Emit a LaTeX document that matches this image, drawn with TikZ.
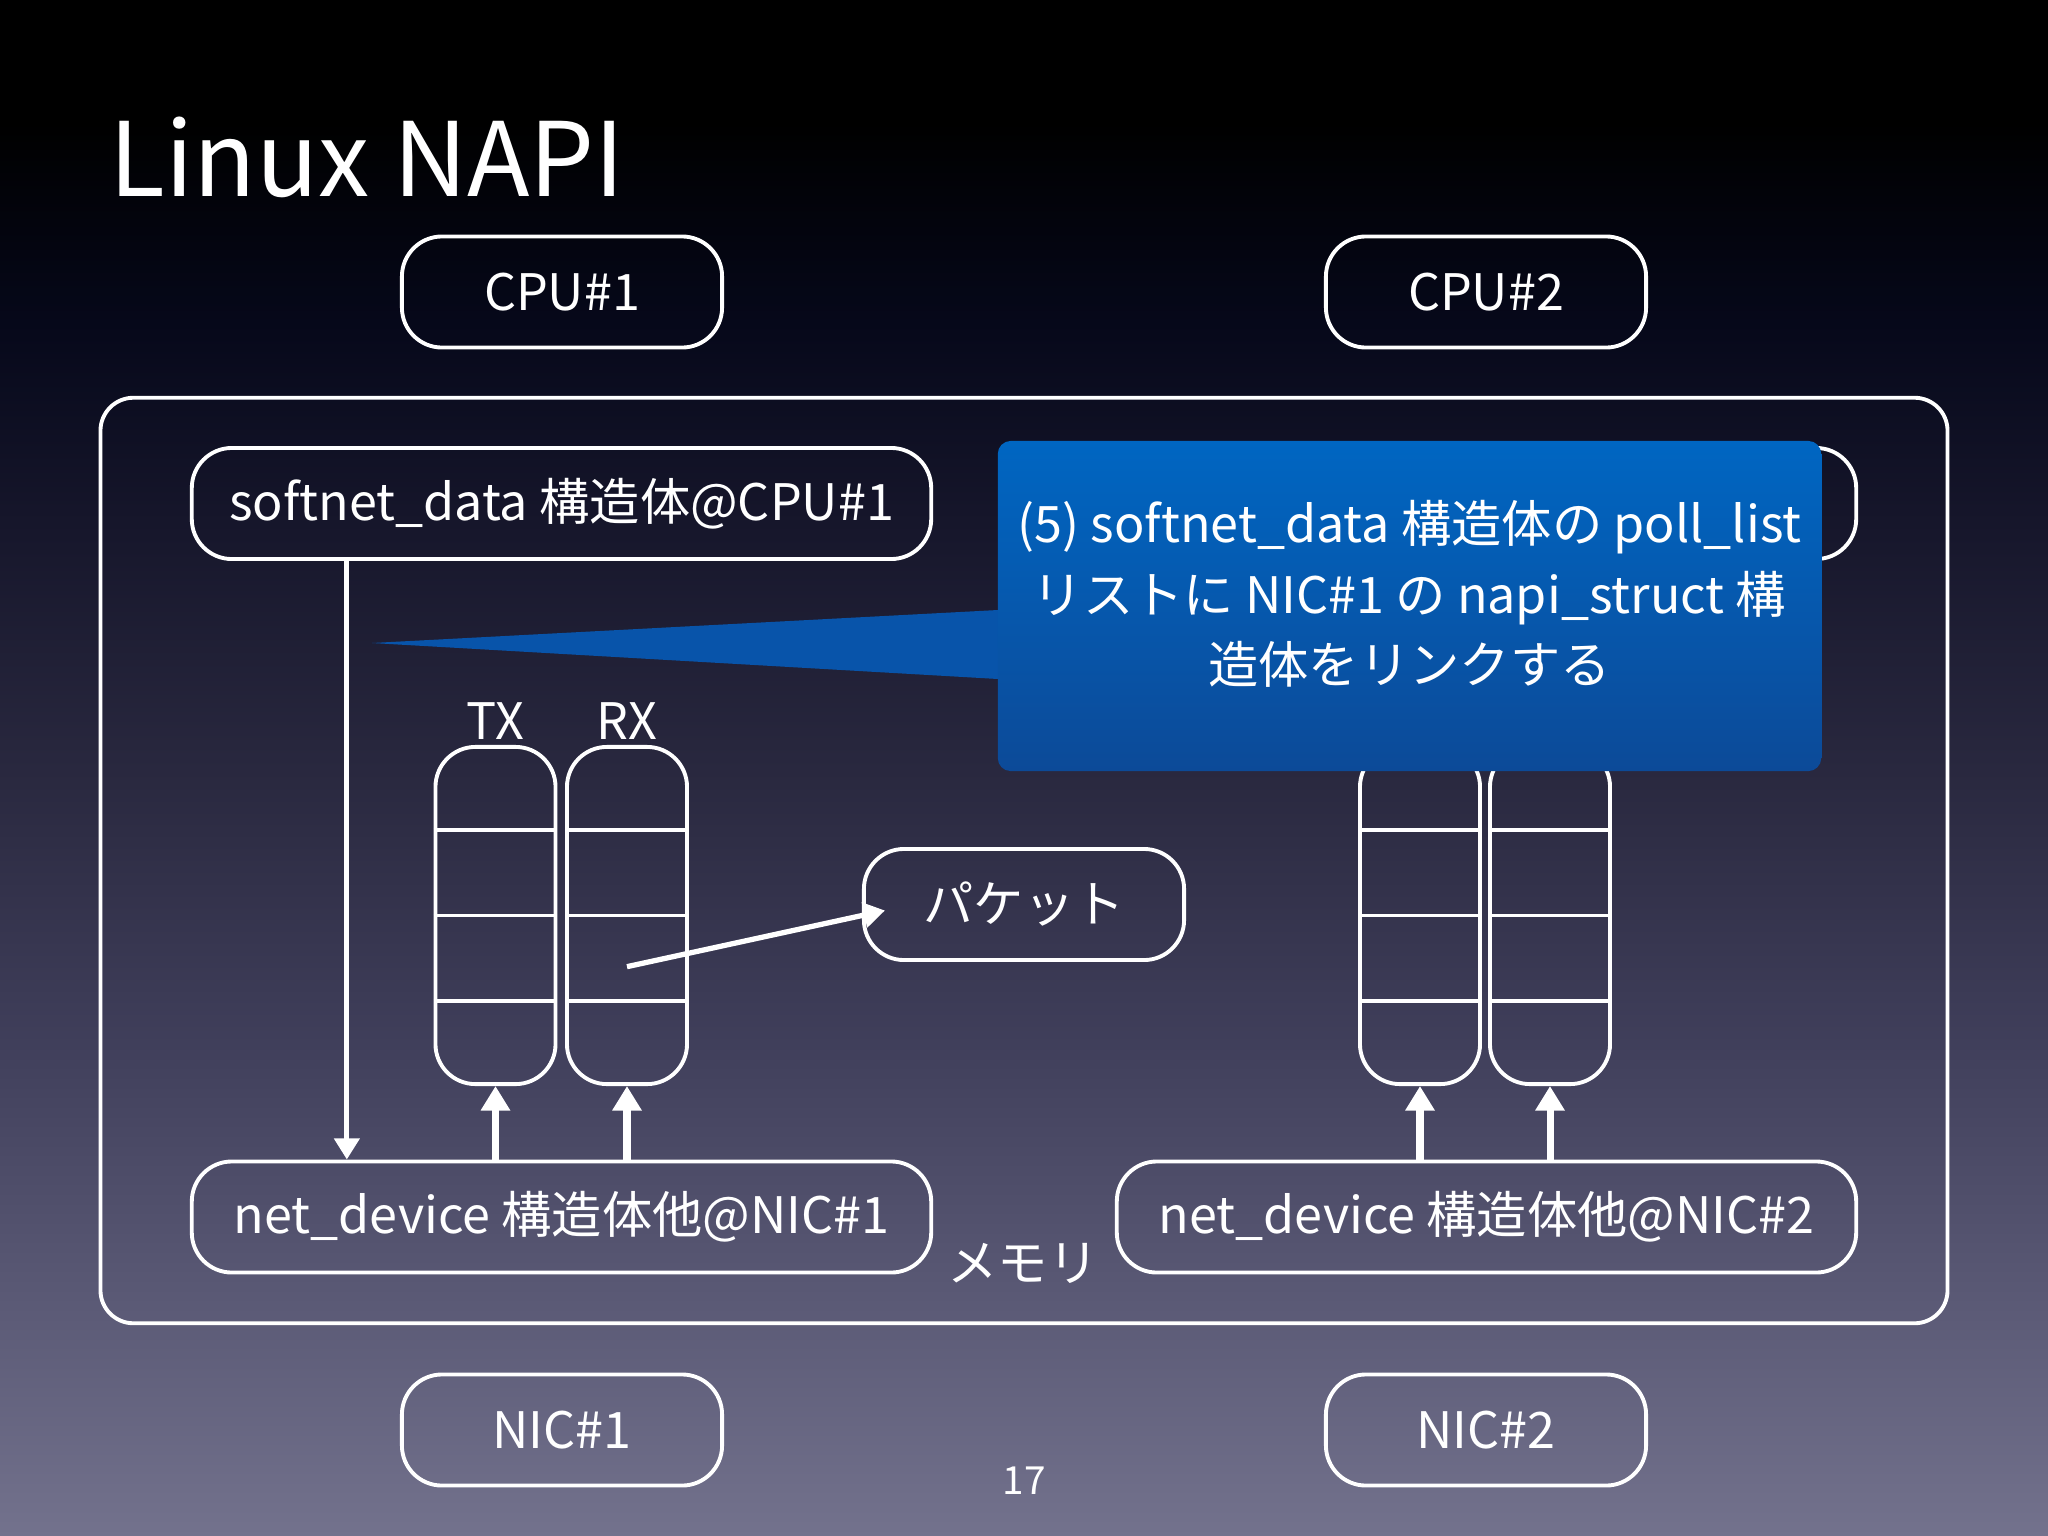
\documentclass[tikz,border=0pt]{standalone}
\usepackage{fontspec}
\setmainfont{Noto Sans CJK JP}
\usepackage{tikz}
\usetikzlibrary{arrows.meta,calc,positioning}
\definecolor{bgA}{RGB}{115,114,141}
\definecolor{bgB}{RGB}{91,90,118}
\definecolor{bgC}{RGB}{64,63,91}
\definecolor{bgD}{RGB}{42,41,64}
\definecolor{bgE}{RGB}{22,22,43}
\definecolor{bgF}{RGB}{6,8,26}
\definecolor{notetop}{RGB}{0,102,194}
\definecolor{notebot}{RGB}{12,74,152}
\definecolor{notetip}{RGB}{8,84,170}
% the path covers 25bp..75bp of the shading
\pgfdeclareverticalshading{slidebg}{100bp}{color(0bp)=(bgA); color(25bp)=(bgA); color(32.5bp)=(bgB); color(41bp)=(bgC); color(49.5bp)=(bgD); color(58bp)=(bgE); color(64.5bp)=(bgF); color(71bp)=(black); color(100bp)=(black)}
\newcommand{\boxfont}{\fontsize{14.3pt}{17pt}\selectfont}
\newcommand{\titlefont}{\fontsize{29.2pt}{35pt}\selectfont}

\begin{document}
\begin{tikzpicture}[x=0.01cm, y=-0.01cm, line width=1.1pt,
    box/.style={draw=white, rounded corners=0.4cm, minimum width=3.2cm, minimum height=1.11cm, text=white, font=\boxfont},
    widebox/.style={box, minimum width=7.39cm},
    queue/.style={draw=white, rounded corners=0.4cm, minimum width=1.2cm, minimum height=3.37cm},
    upflow/.style={draw=white, line width=2pt, -{Triangle[width=8pt,length=7pt]}},
    flow/.style={draw=white, line width=1.5pt, -{Triangle[width=7pt,length=6pt]}},
    tag/.style={text=white, font=\boxfont, inner sep=1pt}]
    \useasboundingbox (0,0) rectangle (2048,1536);
    \shade[shading=slidebg] (0,0) rectangle (2048,1536);
    \node[anchor=base west, inner sep=0pt, text=white, font=\titlefont] (title) at (108,196) {Linux NAPI};

    % processors and cards
    \node[box] (cpu1) at (562,292) {CPU\#1};
    \node[box] (cpu2) at (1486,292) {CPU\#2};
    \node[box] (nic1) at (562,1430) {NIC\#1};
    \node[box] (nic2) at (1486,1430) {NIC\#2};

    % memory
    \node[draw=white, rounded corners=0.33cm, minimum width=18.46cm, minimum height=9.25cm] (mem) at (1024,860.5) {};
    \node[tag] (memlabel) at (1023,1263) {メモリ};
    \node[widebox] (sd1) at (561.5,503.5) {softnet\_data 構造体@CPU\#1};
    \node[widebox] (sd2) at (1486.5,503.5) {};
    \node[widebox] (nd1) at (561.5,1217) {net\_device 構造体他@NIC\#1};
    \node[widebox] (nd2) at (1486.5,1217) {net\_device 構造体他@NIC\#2};

    % rings
    \node[queue] (tx1) at (495.5,915.5) {};
    \node[queue] (rx1) at (627,915.5) {};
    \node[queue] (tx2) at (1420,915.5) {};
    \node[queue] (rx2) at (1550,915.5) {};
    \foreach \q in {tx1,rx1,tx2,rx2}
      \foreach \i in {1,2,3}
        \draw[white] ($(\q.north west)!\i/4!(\q.south west)$) -- ($(\q.north east)!\i/4!(\q.south east)$);
    \node[tag, above=0pt of tx1] (txlabel) {TX};
    \node[tag, above=0pt of rx1] (rxlabel) {RX};

    \node[box] (pkt) at (1024,904.5) {パケット};

    % connectors
    \foreach \q/\d in {tx1/nd1,rx1/nd1,tx2/nd2,rx2/nd2}
      \draw[upflow] (\d.north -| \q.south) -- (\q.south);
    \draw[flow] ($(sd1.south west)+(157,0)$) -- ($(nd1.north west)+(157,0)$);
    \draw[flow] ($(rx1.center)!0.3!(rx1.south)$) -- ($(pkt.west)+(23,6)$);

    % callout
    \fill[notetip] (372,643) -- (998,610) -- (998,679) -- cycle;
    \node[rounded corners=0.13cm, top color=notetop, bottom color=notebot, minimum width=8.23cm, minimum height=3.3cm] (note) at (1409.5,606) {};
    \node[text=white, font=\boxfont, align=center, inner sep=0pt] (notetext) at (1409.5,594)
      {(5) softnet\_data 構造体の poll\_list\\[3pt]リストに NIC\#1 の napi\_struct 構\\[3pt]造体をリンクする};

    \node[text=white, font=\fontsize{11pt}{13pt}\selectfont] (pagenum) at (1024,1481) {17};
\end{tikzpicture}
\end{document}
